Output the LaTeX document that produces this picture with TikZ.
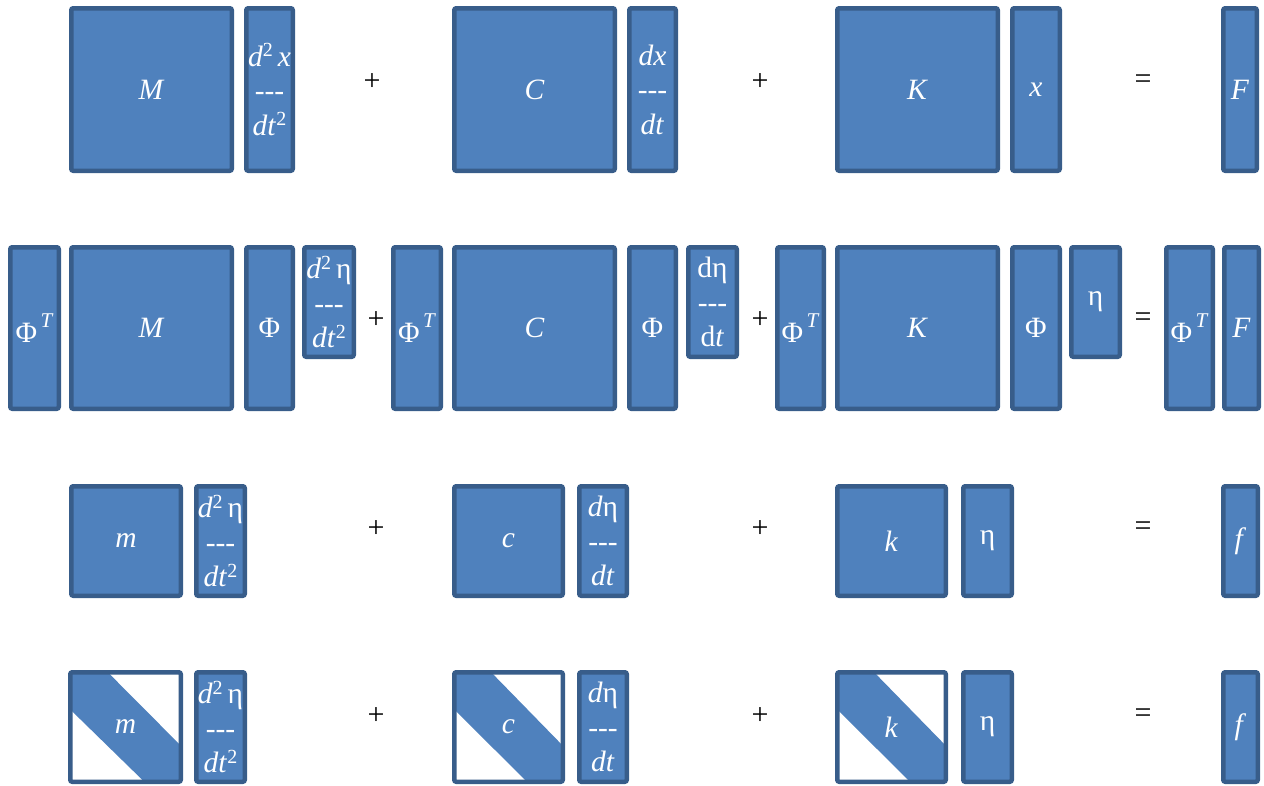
\documentclass[tikz,border=0pt]{standalone}
\usepackage{fontspec}
\setmainfont{Liberation Serif}
\usetikzlibrary{calc}
\definecolor{fil}{HTML}{4F81BD}
\definecolor{bdr}{HTML}{385D8A}
\newcommand\boxat[7][]{\node[mat,#1,minimum width={#4-#3-4.5},minimum height={#6-#5-4.5}] (#2) at ({(#3+#4)/2},{(#5+#6)/2}) {#7};}
\newcommand\sq{\raisebox{0.32em}{\fontsize{20}{20}\selectfont 2}}
\newcommand\dsh{-{}-{}-}
\newcommand\PhT{Φ\raisebox{0.5em}{\fontsize{21}{21}\selectfont\,\textit{T}}}
\begin{document}
\begin{tikzpicture}[x=1pt,y=-1pt,
  mat/.style={draw=bdr,line width=4.5pt,fill=fil,rounded corners=2pt,inner sep=0pt,
    text=white,align=center,font=\fontsize{29.5}{34.5}\selectfont},
  diag/.style={fill=white,path picture={
    \fill[fil] (path picture bounding box.north west)
      -- ($(path picture bounding box.north west)!0.34!(path picture bounding box.north east)$)
      -- ($(path picture bounding box.north east)!0.67!(path picture bounding box.south east)$)
      -- (path picture bounding box.south east)
      -- ($(path picture bounding box.south west)!0.67!(path picture bounding box.south east)$)
      -- ($(path picture bounding box.north west)!0.34!(path picture bounding box.south west)$)
      -- cycle;}},
  sign/.style={inner sep=0pt,font=\fontsize{30}{32}\selectfont}]
\useasboundingbox (0,0) rectangle (1264,785);
% Row 1
\boxat{aM}{69}{234}{6}{173}{\textit{M}}
\boxat{aD}{244}{295}{6}{173}{\textit{d}\sq\,\textit{x}\\\dsh\\\textit{dt}\sq}
\node[sign] (ap1) at (372,82) {+};
\boxat{aC}{452}{617}{6}{173}{\textit{C}}
\boxat{aV}{627}{678}{6}{173}{\textit{dx}\\\dsh\\\textit{dt}}
\node[sign] (ap2) at (760,82) {+};
\boxat{aK}{835}{1000}{6}{173}{\textit{K}}
\boxat{aX}{1010}{1062}{6}{173}{\textit{x}}
\node[sign] (aeq) at (1143,82) {=};
\boxat{aF}{1221}{1259}{6}{173}{\textit{F}}
% Row 2
\boxat{bT1}{8}{61}{245}{411}{\PhT}
\boxat{bM}{69}{234}{245}{411}{\textit{M}}
\boxat{bP1}{244}{295}{245}{411}{Φ}
\boxat{bD}{302}{356}{245}{359}{\textit{d}\sq\,η\\\dsh\\\textit{dt}\sq}
\node[sign] (bp1) at (376,320) {+};
\boxat{bT2}{391}{443}{245}{411}{\PhT}
\boxat{bC}{452}{617}{245}{411}{\textit{C}}
\boxat{bP2}{627}{678}{245}{411}{Φ}
\boxat{bV}{686}{739}{245}{359}{dη\\\dsh\\d\textit{t}}
\node[sign] (bp2) at (760,320) {+};
\boxat{bT3}{775}{826}{245}{411}{\PhT}
\boxat{bK}{835}{1000}{245}{411}{\textit{K}}
\boxat{bP3}{1010}{1062}{245}{411}{Φ}
\boxat{bE}{1069}{1122}{245}{359}{η}
\node[sign] (beq) at (1143,320) {=};
\boxat{bT4}{1164}{1215}{245}{411}{\PhT}
\boxat{bF}{1222}{1261}{245}{411}{\textit{F}}
% Row 3
\boxat{cM}{69}{183}{484}{598}{\textit{m}}
\boxat{cD}{194}{247}{484}{598}{\textit{d}\sq\,η\\\dsh\\\textit{dt}\sq}
\node[sign] (cp1) at (376,529) {+};
\boxat{cC}{452}{565}{484}{598}{\textit{c}}
\boxat{cV}{577}{629}{484}{598}{\textit{d}η\\\dsh\\\textit{dt}}
\node[sign] (cp2) at (760,529) {+};
\boxat{cK}{835}{948}{484}{598}{\textit{k}}
\boxat{cE}{961}{1014}{484}{598}{η}
\node[sign] (ceq) at (1143,529) {=};
\boxat{cF}{1221}{1260}{484}{598}{\textit{f}}
% Row 4
\boxat[diag]{dM}{68}{183}{670}{784}{\textit{m}}
\boxat{dD}{194}{247}{670}{784}{\textit{d}\sq\,η\\\dsh\\\textit{dt}\sq}
\node[sign] (dp1) at (376,716) {+};
\boxat[diag]{dC}{452}{565}{670}{784}{\textit{c}}
\boxat{dV}{577}{629}{670}{784}{\textit{d}η\\\dsh\\\textit{dt}}
\node[sign] (dp2) at (760,716) {+};
\boxat[diag]{dK}{835}{948}{670}{784}{\textit{k}}
\boxat{dE}{961}{1014}{670}{784}{η}
\node[sign] (deq) at (1143,716) {=};
\boxat{dF}{1221}{1260}{670}{784}{\textit{f}}
\end{tikzpicture}
\end{document}
